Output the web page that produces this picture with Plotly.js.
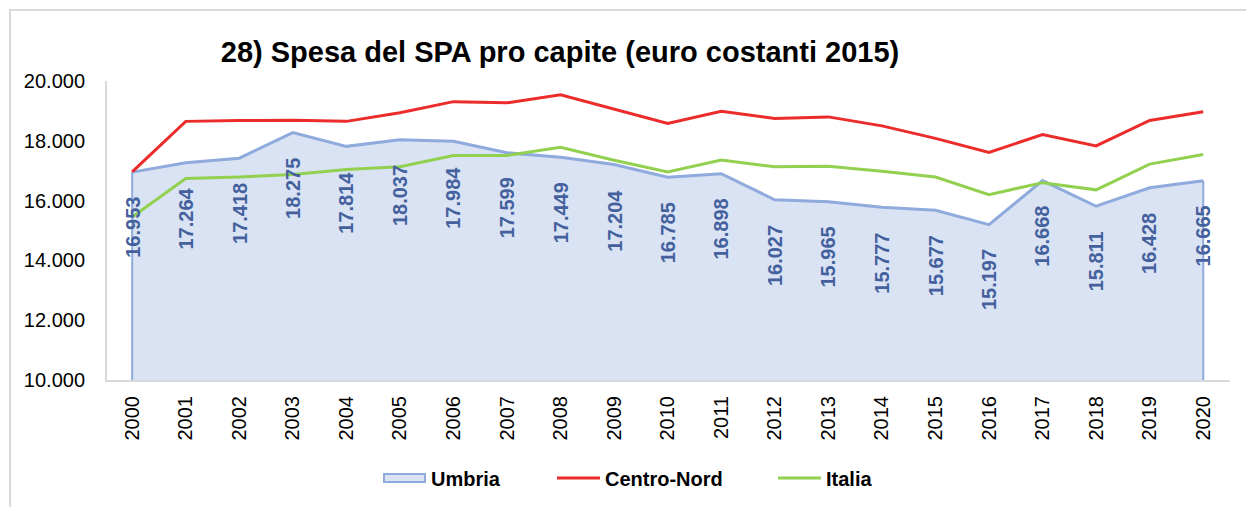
<!DOCTYPE html>
<html><head><meta charset="utf-8">
<script src="https://cdn.plot.ly/plotly-3.0.1.min.js"></script>
<style>
html,body{margin:0;padding:0;background:#fff;}
#frame{position:absolute;left:9px;top:9px;width:1300px;height:600px;border-left:2px solid #D9D9D9;border-top:2px solid #D9D9D9;}
#chart{position:absolute;left:0;top:0;width:1246px;height:507px;}
</style></head>
<body>
<div id="frame"></div>
<div id="chart"></div>
<script>
var years = ['2000','2001','2002','2003','2004','2005','2006','2007','2008','2009','2010','2011','2012','2013','2014','2015','2016','2017','2018','2019','2020'];
var umbria = [16953,17264,17418,18275,17814,18037,17984,17599,17449,17204,16785,16898,16027,15965,15777,15677,15197,16668,15811,16428,16665];
var centroNord = [16960,18650,18680,18690,18650,18940,19310,19270,19540,19060,18580,18990,18750,18800,18500,18080,17610,18210,17830,18680,18970];
var italia = [15450,16740,16790,16870,17040,17130,17510,17510,17780,17350,16960,17360,17130,17150,16980,16790,16200,16600,16360,17220,17540];
var seriesNames = ['Umbria','Centro-Nord','Italia'];
var yTicks = [10000,12000,14000,16000,18000,20000];
var yTickText = ['10.000','12.000','14.000','16.000','18.000','20.000'];
var yMin = 10000, yMax = 20000;

var FONT = 'Liberation Sans, Arial, sans-serif';
var colUmbriaLine = '#8FAADC', colUmbriaFill = '#DAE3F3', colCN = '#EC2B2B', colIt = '#92D050', colLabel = '#44619E';

function fmt(v){ return String(v).replace(/\B(?=(\d{3})+(?!\d))/g,'.'); }

var idx = years.map(function(_, i){ return i; });

var traces = [
  {x: idx, y: umbria, name: seriesNames[0], type: 'scatter', mode: 'lines', fill: 'tozeroy',
   fillcolor: colUmbriaFill, line: {color: colUmbriaLine, width: 3}, showlegend: false},
  {x: idx, y: centroNord, name: seriesNames[1], type: 'scatter', mode: 'lines',
   line: {color: colCN, width: 3}, showlegend: false},
  {x: idx, y: italia, name: seriesNames[2], type: 'scatter', mode: 'lines',
   line: {color: colIt, width: 3}, showlegend: false}
];

var annotations = idx.map(function(i){
  return {x: i, y: umbria[i], xref: 'x', yref: 'y', text: '<b>' + fmt(umbria[i]) + '</b>', showarrow: false,
    textangle: -90, xanchor: 'center', yanchor: 'top', yshift: -23,
    font: {family: FONT, size: 20, color: colLabel}};
});

// plot area in px: x 107..1230, y 81..380
function px(X){ return (X - 107) / 1123; }
function py(Y){ return (380 - Y) / 299; }

var shapes = [
  {type: 'line', xref: 'x', yref: 'y', x0: 0, x1: 0, y0: yMin, y1: umbria[0], line: {color: colUmbriaLine, width: 2}, layer: 'above'},
  {type: 'line', xref: 'x', yref: 'y', x0: idx.length-1, x1: idx.length-1, y0: yMin, y1: umbria[umbria.length-1], line: {color: colUmbriaLine, width: 2}, layer: 'above'},
  // legend swatches
  {type: 'rect', xref: 'paper', yref: 'paper', x0: px(384), x1: px(425), y0: py(482), y1: py(474), fillcolor: colUmbriaFill, line: {color: colUmbriaLine, width: 2}},
  {type: 'line', xref: 'paper', yref: 'paper', x0: px(557), x1: px(600), y0: py(478), y1: py(478), line: {color: colCN, width: 3}},
  {type: 'line', xref: 'paper', yref: 'paper', x0: px(778), x1: px(821), y0: py(478), y1: py(478), line: {color: colIt, width: 3}}
];

var legendTextX = [430, 604, 825];
seriesNames.forEach(function(n, k){
  annotations.push({xref: 'paper', yref: 'paper', x: px(legendTextX[k]), y: py(479), xanchor: 'left', yanchor: 'middle',
    text: '<b>' + n + '</b>', showarrow: false, font: {family: FONT, size: 20, color: '#000'}, borderpad: 0});
});

var layout = {
  width: 1246, height: 507,
  margin: {l: 107, r: 16, t: 81, b: 127},
  paper_bgcolor: 'rgba(0,0,0,0)', plot_bgcolor: 'rgba(0,0,0,0)',
  font: {family: FONT, color: '#000'},
  title: {text: '<b>28) Spesa del SPA pro capite (euro costanti 2015)</b>', x: 560/1246, xanchor: 'center', y: 1-52/507, yanchor: 'middle',
    font: {size: 29, color: '#000', family: FONT}},
  xaxis: {range: [-0.47, 20.5], tickvals: idx, ticktext: years, tickangle: -90, showgrid: false, zeroline: false,
    showline: true, linecolor: '#D9D9D9', linewidth: 2, ticks: '', ticklabelstandoff: 6,
    tickfont: {size: 20, color: '#000'}},
  yaxis: {range: [yMin, yMax], tickvals: yTicks, ticktext: yTickText, showgrid: false, zeroline: false,
    showline: true, linecolor: '#D9D9D9', linewidth: 2, ticks: '', ticklabelstandoff: 16,
    tickfont: {size: 20, color: '#000'}},
  showlegend: false,
  annotations: annotations,
  shapes: shapes
};

Plotly.newPlot('chart', traces, layout, {displayModeBar: false, staticPlot: true});
</script>
</body></html>
